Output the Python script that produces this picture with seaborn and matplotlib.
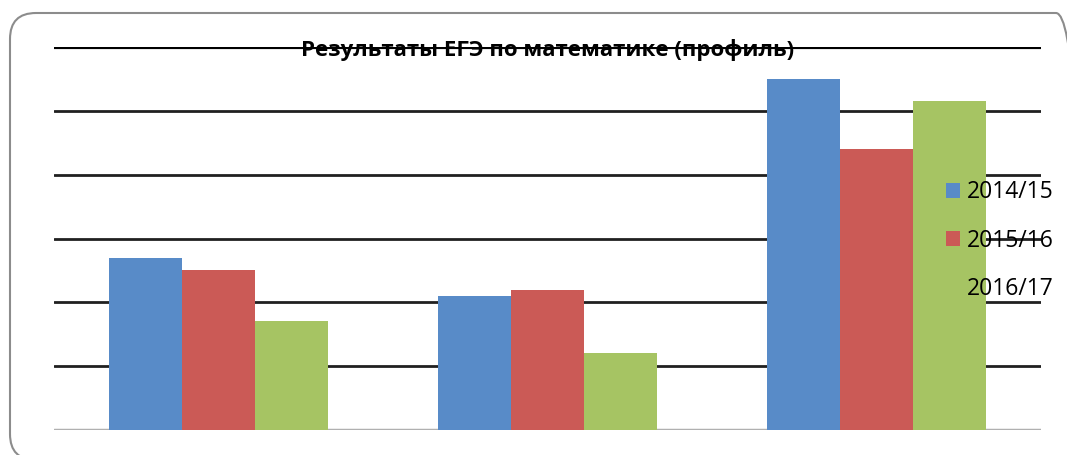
import pandas as pd
import seaborn as sns
import matplotlib.pyplot as plt
from matplotlib.patches import FancyBboxPatch, Patch

# values (no axis labels in the original, gridline step = 10)
groups = ["1", "2", "3"]
years = ["2014/15", "2015/16", "2016/17"]
v_2014 = [27, 21, 55]
v_2015 = [25, 22, 44]
v_2016 = [17, 12, 51.5]
colors = ["#588BC8", "#CB5A56", "#A6C463"]

df = pd.DataFrame({
    "group": groups * 3,
    "year": [years[0]] * 3 + [years[1]] * 3 + [years[2]] * 3,
    "value": v_2014 + v_2015 + v_2016,
})

sns.set_style("white")
plt.rcParams['font.family'] = ['Open Sans', 'DejaVu Sans']
plt.rcParams['text.color'] = 'black'

fig = plt.figure(figsize=(10.67, 4.55), dpi=100)
ax = fig.add_axes([54 / 1067, 1 - 430 / 455, (1041 - 54) / 1067, (430 - 47) / 455])

sns.barplot(ax=ax, data=df, x="group", y="value", hue="year",
            palette=colors, width=0.667, gap=0, saturation=1, linewidth=0,
            errorbar=None, legend=False)

ax.set_ylim(0, 60)
ax.set_xlim(-0.5, 2.5)
ax.set_yticks(range(0, 61, 10))
ax.set_axisbelow(True)
ax.grid(axis="y", color="#202020", linewidth=2)
gl = ax.get_ygridlines()
gl[0].set_color("#b0b0b0")
gl[0].set_linewidth(2.5)
gl[-1].set_color("black")
gl[-1].set_linewidth(3)
for s in ax.spines.values():
    s.set_visible(False)
ax.tick_params(left=False, bottom=False, labelleft=False, labelbottom=False)
ax.set_xlabel("")
ax.set_ylabel("")

ax.text(0.5, 1 - 3 / 383, "Результаты ЕГЭ по математике (профиль)",
        transform=ax.transAxes, ha="center", va="center",
        fontsize=16, fontweight="bold", color="black", zorder=6)

handles = [Patch(facecolor=c, edgecolor="none") for c in colors]
ax.legend(handles, years, loc="upper left",
          bbox_to_anchor=(935 / 1067, 1 - 169 / 455),
          bbox_transform=fig.transFigure, frameon=False, fontsize=16.5,
          handlelength=0.6, handleheight=0.6, handletextpad=0.3,
          labelspacing=1.05, borderpad=0)

# rounded frame around the chart area (runs off the right and bottom edges)
frame = FancyBboxPatch((0.10, -0.05), 10.72, 4.47,
                       boxstyle="round,pad=0,rounding_size=0.26",
                       transform=fig.dpi_scale_trans, facecolor="none",
                       edgecolor="#8c8c8c", linewidth=1.5)
fig.patches.append(frame)

plt.savefig("out.png", dpi=100)
